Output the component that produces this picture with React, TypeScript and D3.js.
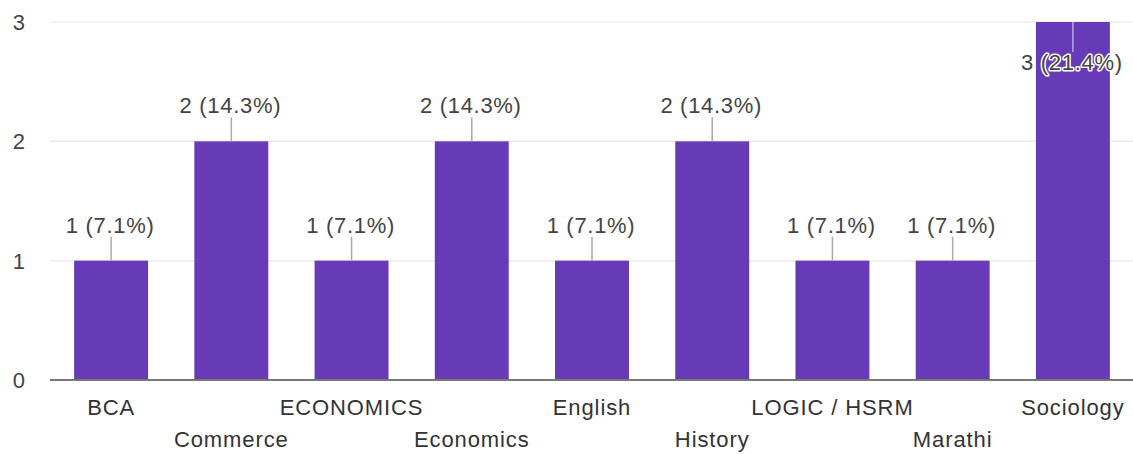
import React from 'react';
import * as d3 from 'd3';

const categories = ['BCA', 'Commerce', 'ECONOMICS', 'Economics', 'English', 'History', 'LOGIC / HSRM', 'Marathi', 'Sociology'];
const counts = [1, 2, 1, 2, 1, 2, 1, 1, 3];
const percents = ['7.1%', '14.3%', '7.1%', '14.3%', '7.1%', '14.3%', '7.1%', '7.1%', '21.4%'];
const yTicks = [0, 1, 2, 3];

const W = 1133;
const H = 454;
const font = '"Liberation Sans", Arial, sans-serif';

export default function App() {
  const x = d3.scaleBand<string>().domain(categories).range([51, 1133]).paddingInner(0.385).paddingOuter(0.1925);
  const y = d3.scaleLinear().domain([0, 3]).range([380, 22]);
  const yMax = d3.max(counts) as number;

  return (
    <svg width={W} height={H} style={{ position: 'fixed', top: 0, left: 0, background: '#fff' }} fontFamily={font}>
      {/* gridlines */}
      {yTicks.filter(t => t > 0).map(t => (
        <line key={t} x1={50} x2={W} y1={y(t)} y2={y(t)} stroke="#ececec" strokeWidth={1.5} />
      ))}
      {yTicks.map(t => (
        <text key={'t' + t} x={25} y={y(t) + 8} textAnchor="end" fontSize={22} fill="#444">{t}</text>
      ))}

      {/* bars */}
      {categories.map((c, i) => (
        <rect key={c} x={x(c)} y={y(counts[i])} width={x.bandwidth()} height={y(0) - y(counts[i])} fill="#673ab7" />
      ))}

      {/* baseline */}
      <line x1={50} x2={W} y1={y(0)} y2={y(0)} stroke="#777" strokeWidth={2} />

      {/* value labels */}
      {categories.map((c, i) => {
        const cx = (x(c) as number) + x.bandwidth() / 2;
        const top = y(counts[i]);
        const inside = counts[i] === yMax;
        const label = `${counts[i]} (${percents[i]})`;
        const ty = inside ? top + 48 : top - 28;
        return (
          <g key={'v' + c}>
            <line x1={cx} x2={cx} y1={inside ? top : top - 24} y2={inside ? top + 30 : top} stroke={inside ? '#b9a6dd' : '#aaa'} strokeWidth={1.5} />
            {inside && (
              <text x={cx - 1} y={ty} textAnchor="middle" fontSize={22} letterSpacing={0.7} fill="none" stroke="#fff" strokeWidth={3} strokeLinejoin="round">{label}</text>
            )}
            <text x={cx - 1} y={ty} textAnchor="middle" fontSize={22} letterSpacing={0.7} fill="#444">{label}</text>
          </g>
        );
      })}

      {/* category labels */}
      {categories.map((c, i) => (
        <text
          key={'c' + c}
          x={(x(c) as number) + x.bandwidth() / 2}
          y={i % 2 === 0 ? 415 : 447}
          textAnchor="middle"
          fontSize={22}
          letterSpacing={0.9}
          fill="#333"
        >
          {c}
        </text>
      ))}
    </svg>
  );
}
